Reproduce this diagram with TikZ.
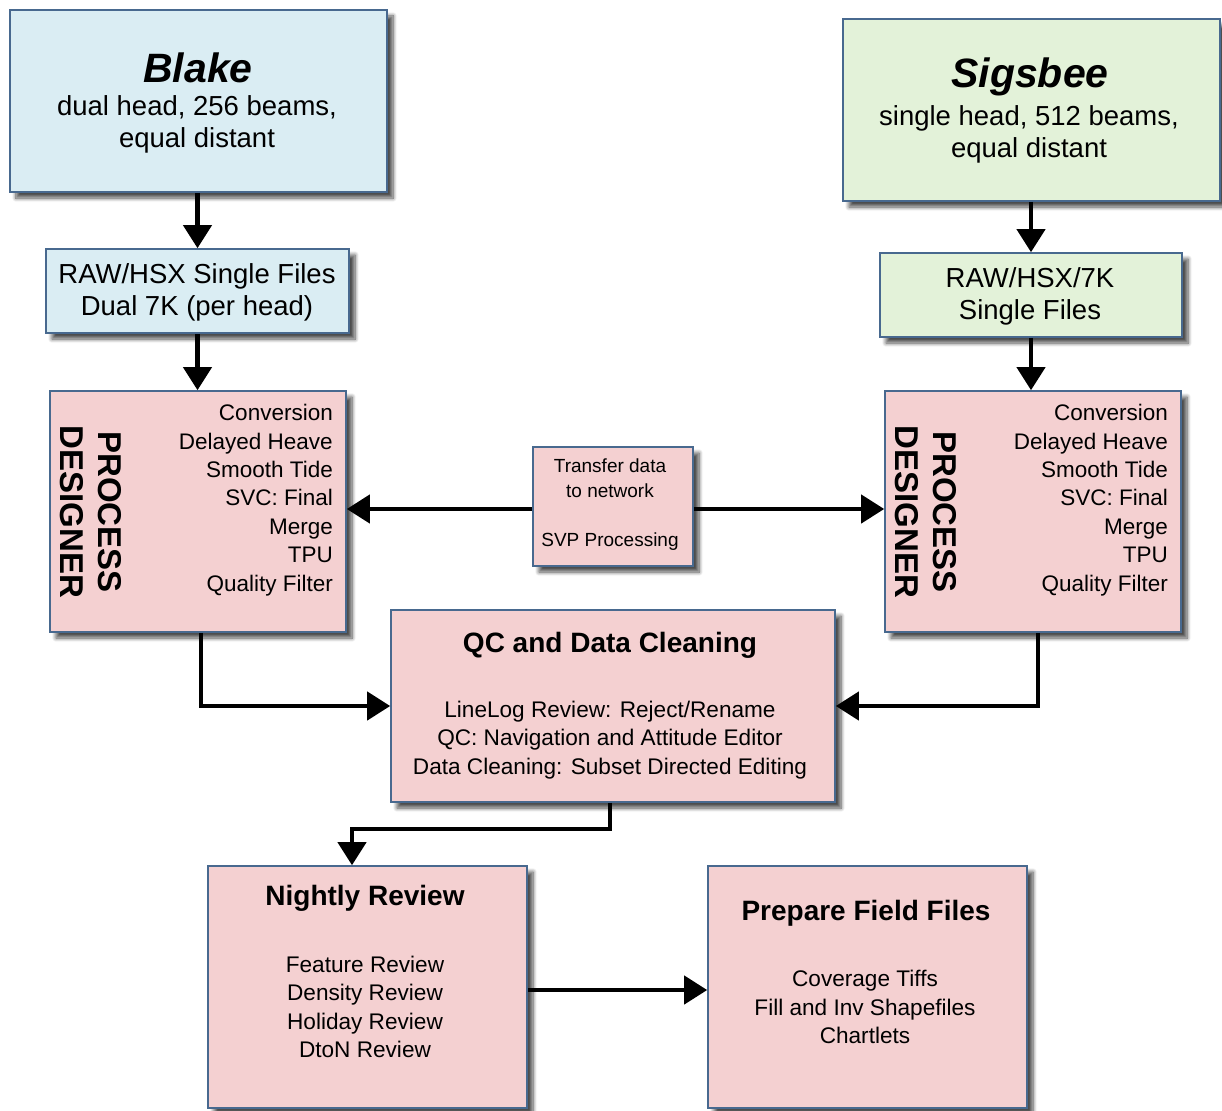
\documentclass[tikz,border=0pt]{standalone}
\usepackage{fontspec}
\setmainfont{Liberation Sans}
\usetikzlibrary{arrows.meta,shadows.blur}
\definecolor{bluefill}{HTML}{DAEDF3}
\definecolor{greenfill}{HTML}{E3F2D9}
\definecolor{pinkfill}{HTML}{F4D0D1}
\definecolor{boxline}{HTML}{48698F}
\newcommand{\fs}[2]{\fontsize{#1}{#2}\selectfont}
\tikzset{
  x=1pt, y=-1pt,
  box/.style={draw=boxline, line width=1.6pt, rectangle, inner sep=0pt,
    blur shadow={shadow xshift=6pt, shadow yshift=-6pt, shadow blur steps=8,
      shadow blur radius=4pt, shadow opacity=70}},
  bluebox/.style={box, fill=bluefill},
  greenbox/.style={box, fill=greenfill},
  pinkbox/.style={box, fill=pinkfill},
  txt/.style={inner sep=0pt, align=center, text=black},
  conn/.style={line width=4.2pt, -{Triangle[length=23pt,width=28pt]}},
}
\begin{document}
\begin{tikzpicture}
\useasboundingbox (0,0) rectangle (1222,1110);

% vessel boxes and raw file boxes
\node[bluebox, minimum width=377pt, minimum height=182pt] (blake) at (198.5,101) {};
\node[txt, font=\fs{41}{46}\bfseries\itshape] (blaket) at (198,68) {Blake};
\node[txt, font=\fs{27.5}{32}] (blakeb) at (197,124) {dual head, 256 beams,\\equal distant};

\node[bluebox, minimum width=303pt, minimum height=84pt] (rawa) at (197.5,291) {};
\node[txt, font=\fs{27.5}{32}] (rawat) at (197,292) {RAW/HSX Single Files\\Dual 7K (per head)};

\node[greenbox, minimum width=377pt, minimum height=182pt] (sig) at (1031.5,110) {};
\node[txt, font=\fs{41}{46}\bfseries\itshape] (sigt) at (1030,77) {Sigsbee};
\node[txt, font=\fs{27.5}{32}] (sigb) at (1029,134) {single head, 512 beams,\\equal distant};

\node[greenbox, minimum width=302pt, minimum height=84pt] (rawb) at (1031,295) {};
\node[txt, font=\fs{27.5}{32}] (rawbt) at (1030,296) {RAW/HSX/7K\\Single Files};

% process designer boxes
\node[pinkbox, minimum width=296pt, minimum height=241pt] (pda) at (198,511.5) {};
\node[txt, font=\fs{33}{38}\bfseries, rotate=-90] (pdat) at (91,512) {PROCESS\\DESIGNER};
\node[txt, align=right, anchor=east, font=\fs{22.5}{28.4}] (pdal) at (333,500)
  {Conversion\\Delayed Heave\\Smooth Tide\\SVC: Final\\Merge\\TPU\\Quality Filter};

\node[pinkbox, minimum width=296pt, minimum height=241pt] (pdb) at (1033,511.5) {};
\node[txt, font=\fs{33}{38}\bfseries, rotate=-90] (pdbt) at (926,512) {PROCESS\\DESIGNER};
\node[txt, align=right, anchor=east, font=\fs{22.5}{28.4}] (pdbl) at (1168,500)
  {Conversion\\Delayed Heave\\Smooth Tide\\SVC: Final\\Merge\\TPU\\Quality Filter};

% transfer box
\node[pinkbox, minimum width=160pt, minimum height=119pt] (xfer) at (613,506.5) {};
\node[txt, font=\fs{19}{24.7}] (xfert) at (610,505) {Transfer data\\to network\\[24.7pt]SVP Processing};

% QC box
\node[pinkbox, minimum width=444pt, minimum height=192pt] (qc) at (613,706) {};
\node[txt, font=\fs{28}{32}\bfseries] (qct) at (610,645) {QC and Data Cleaning};
\node[txt, font=\fs{22.6}{28.5}] (qcb) at (610,740)
  {LineLog Review: Reject/Rename\\QC: Navigation and Attitude Editor\\Data Cleaning: Subset Directed Editing};

% bottom boxes
\node[pinkbox, minimum width=319pt, minimum height=242pt] (night) at (367.5,987) {};
\node[txt, font=\fs{28}{32}\bfseries] (nightt) at (365,898) {Nightly Review};
\node[txt, font=\fs{22.6}{28.3}] (nightb) at (365,1007)
  {Feature Review\\Density Review\\Holiday Review\\DtoN Review};

\node[pinkbox, minimum width=319pt, minimum height=242pt] (prep) at (867.5,987) {};
\node[txt, font=\fs{28}{32}\bfseries] (prept) at (866,913) {Prepare Field Files};
\node[txt, font=\fs{22.6}{28.3}] (prepb) at (865,1007)
  {Coverage Tiffs\\Fill and Inv Shapefiles\\Chartlets};

% connectors
\draw[conn] (rawa.north |- blake.south) -- (rawa.north);
\draw[conn] (rawa.south) -- (rawa.south |- pda.north);
\draw[conn] (rawb.north |- sig.south) -- (rawb.north);
\draw[conn] (rawb.south) -- (rawb.south |- pdb.north);
\draw[conn] ([yshift=-2.5pt]xfer.west) -- ([yshift=-2.5pt]pda.east |- xfer.west);
\draw[conn] ([yshift=-2.5pt]xfer.east) -- ([yshift=-2.5pt]pdb.west |- xfer.east);
\draw[conn] ([xshift=3pt]pda.south) |- (qc.west);
\draw[conn] ([xshift=5pt]pdb.south) |- (qc.east);
\coordinate (qcturn) at ([xshift=-3pt,yshift=-26pt]qc.south);
\draw[conn] ([xshift=-3pt]qc.south) -- (qcturn) -| ([xshift=-15.5pt]night.north);
\draw[conn] ([yshift=-3pt]night.east) -- ([yshift=-3pt]prep.west);
\end{tikzpicture}
\end{document}
